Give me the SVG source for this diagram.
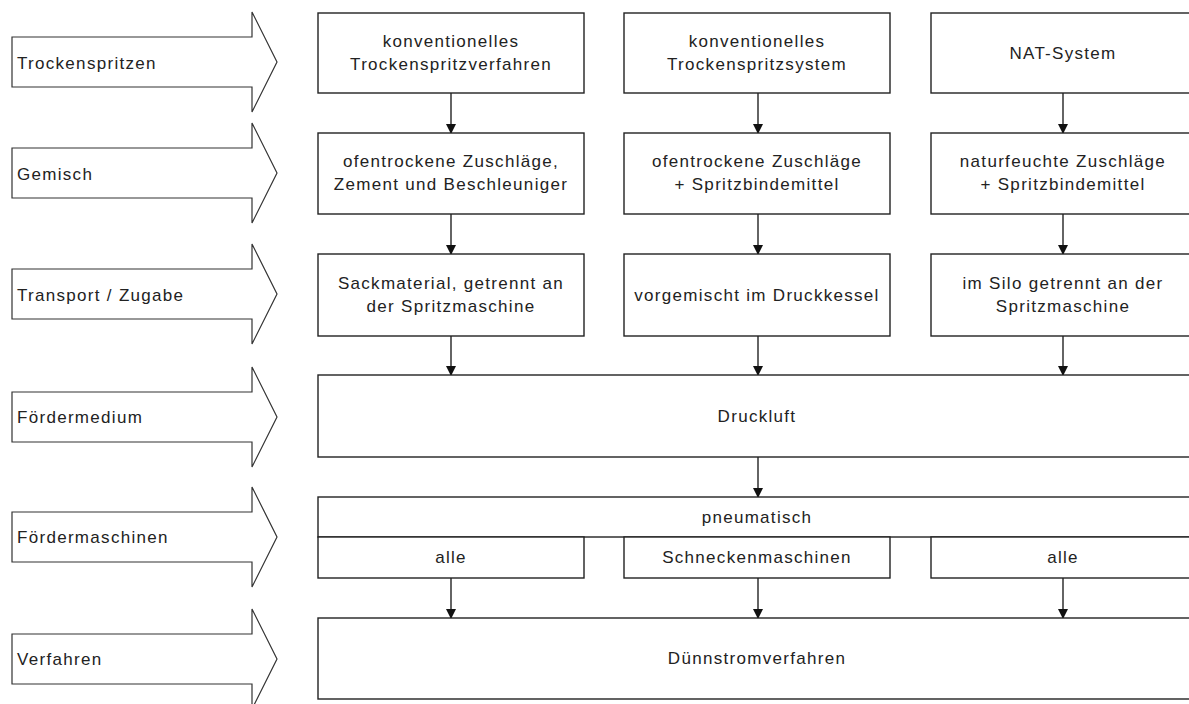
<svg xmlns="http://www.w3.org/2000/svg" width="1189" height="704" viewBox="0 0 1189 704">
<style>
.bx{fill:#fff;stroke:#222;stroke-width:1.4}
.ar{fill:#fff;stroke:#333;stroke-width:1.2}
.t{font-family:"Liberation Sans",Arial,sans-serif;font-size:17px;letter-spacing:1.3px;fill:#222}
.c{text-anchor:middle}
.cn{stroke:#111;stroke-width:1.3;fill:none;marker-end:url(#ah)}
</style>
<defs>
<marker id="ah" markerWidth="10" markerHeight="11" refX="9" refY="5" orient="auto" markerUnits="userSpaceOnUse" viewBox="0 0 10 10">
<path d="M0,0 L10,5 L0,10 Z" fill="#111"/>
</marker>
</defs>
<g id="stages">
<g id="stage-trockenspritzen"><path class="ar" d="M12,37 H252 V12 L277,62 L252,112 V87 H12 Z"/><text class="t" x="17" y="69">Trockenspritzen</text></g>
<g id="stage-gemisch"><path class="ar" d="M12,148 H252 V123 L277,173 L252,223 V198 H12 Z"/><text class="t" x="17" y="180">Gemisch</text></g>
<g id="stage-transport"><path class="ar" d="M12,269 H252 V244 L277,294 L252,344 V319 H12 Z"/><text class="t" x="17" y="301">Transport / Zugabe</text></g>
<g id="stage-foerdermedium"><path class="ar" d="M12,392 H252 V367 L277,417 L252,467 V442 H12 Z"/><text class="t" x="17" y="423">Fördermedium</text></g>
<g id="stage-foerdermaschinen"><path class="ar" d="M12,512 H252 V487 L277,537 L252,587 V562 H12 Z"/><text class="t" x="17" y="543">Fördermaschinen</text></g>
<g id="stage-verfahren"><path class="ar" d="M12,634 H252 V609 L277,659 L252,709 V684 H12 Z"/><text class="t" x="17" y="665">Verfahren</text></g>
</g>
<g id="connectors">
<line class="cn" x1="451" y1="93" x2="451" y2="133"/>
<line class="cn" x1="758" y1="93" x2="758" y2="133"/>
<line class="cn" x1="1063" y1="93" x2="1063" y2="133"/>
<line class="cn" x1="451" y1="214" x2="451" y2="254"/>
<line class="cn" x1="758" y1="214" x2="758" y2="254"/>
<line class="cn" x1="1063" y1="214" x2="1063" y2="254"/>
<line class="cn" x1="451" y1="336" x2="451" y2="375"/>
<line class="cn" x1="758" y1="336" x2="758" y2="375"/>
<line class="cn" x1="1063" y1="336" x2="1063" y2="375"/>
<line class="cn" x1="758" y1="457" x2="758" y2="497"/>
<line class="cn" x1="451" y1="578" x2="451" y2="618"/>
<line class="cn" x1="758" y1="578" x2="758" y2="618"/>
<line class="cn" x1="1063" y1="578" x2="1063" y2="618"/>
</g>
<g id="n-konv-verfahren"><rect class="bx" x="318" y="13" width="266" height="80"/><text class="t c" x="451" y="47">konventionelles</text><text class="t c" x="451" y="70">Trockenspritzverfahren</text></g>
<g id="n-konv-system"><rect class="bx" x="624" y="13" width="266" height="80"/><text class="t c" x="757" y="47">konventionelles</text><text class="t c" x="757" y="70">Trockenspritzsystem</text></g>
<g id="n-nat"><rect class="bx" x="931" y="13" width="265" height="80"/><text class="t c" x="1063" y="59">NAT-System</text></g>
<g id="n-gemisch1"><rect class="bx" x="318" y="133" width="266" height="81"/><text class="t c" x="451" y="167">ofentrockene Zuschläge,</text><text class="t c" x="451" y="190">Zement und Beschleuniger</text></g>
<g id="n-gemisch2"><rect class="bx" x="624" y="133" width="266" height="81"/><text class="t c" x="757" y="167">ofentrockene Zuschläge</text><text class="t c" x="757" y="190">+ Spritzbindemittel</text></g>
<g id="n-gemisch3"><rect class="bx" x="931" y="133" width="265" height="81"/><text class="t c" x="1063" y="167">naturfeuchte Zuschläge</text><text class="t c" x="1063" y="190">+ Spritzbindemittel</text></g>
<g id="n-transport1"><rect class="bx" x="318" y="254" width="266" height="82"/><text class="t c" x="451" y="289">Sackmaterial, getrennt an</text><text class="t c" x="451" y="312">der Spritzmaschine</text></g>
<g id="n-transport2"><rect class="bx" x="624" y="254" width="266" height="82"/><text class="t c" x="757" y="301">vorgemischt im Druckkessel</text></g>
<g id="n-transport3"><rect class="bx" x="931" y="254" width="265" height="82"/><text class="t c" x="1063" y="289">im Silo getrennt an der</text><text class="t c" x="1063" y="312">Spritzmaschine</text></g>
<g id="n-druckluft"><rect class="bx" x="318" y="375" width="878" height="82"/><text class="t c" x="757" y="422">Druckluft</text></g>
<g id="n-pneumatisch"><rect class="bx" x="318" y="497" width="878" height="40"/><text class="t c" x="757" y="523">pneumatisch</text></g>
<g id="n-alle1"><rect class="bx" x="318" y="537" width="266" height="41"/><text class="t c" x="451" y="563">alle</text></g>
<g id="n-schnecken"><rect class="bx" x="624" y="537" width="266" height="41"/><text class="t c" x="757" y="563">Schneckenmaschinen</text></g>
<g id="n-alle2"><rect class="bx" x="931" y="537" width="265" height="41"/><text class="t c" x="1063" y="563">alle</text></g>
<g id="n-duennstrom"><rect class="bx" x="318" y="618" width="878" height="81"/><text class="t c" x="757" y="664">Dünnstromverfahren</text></g>
</svg>
